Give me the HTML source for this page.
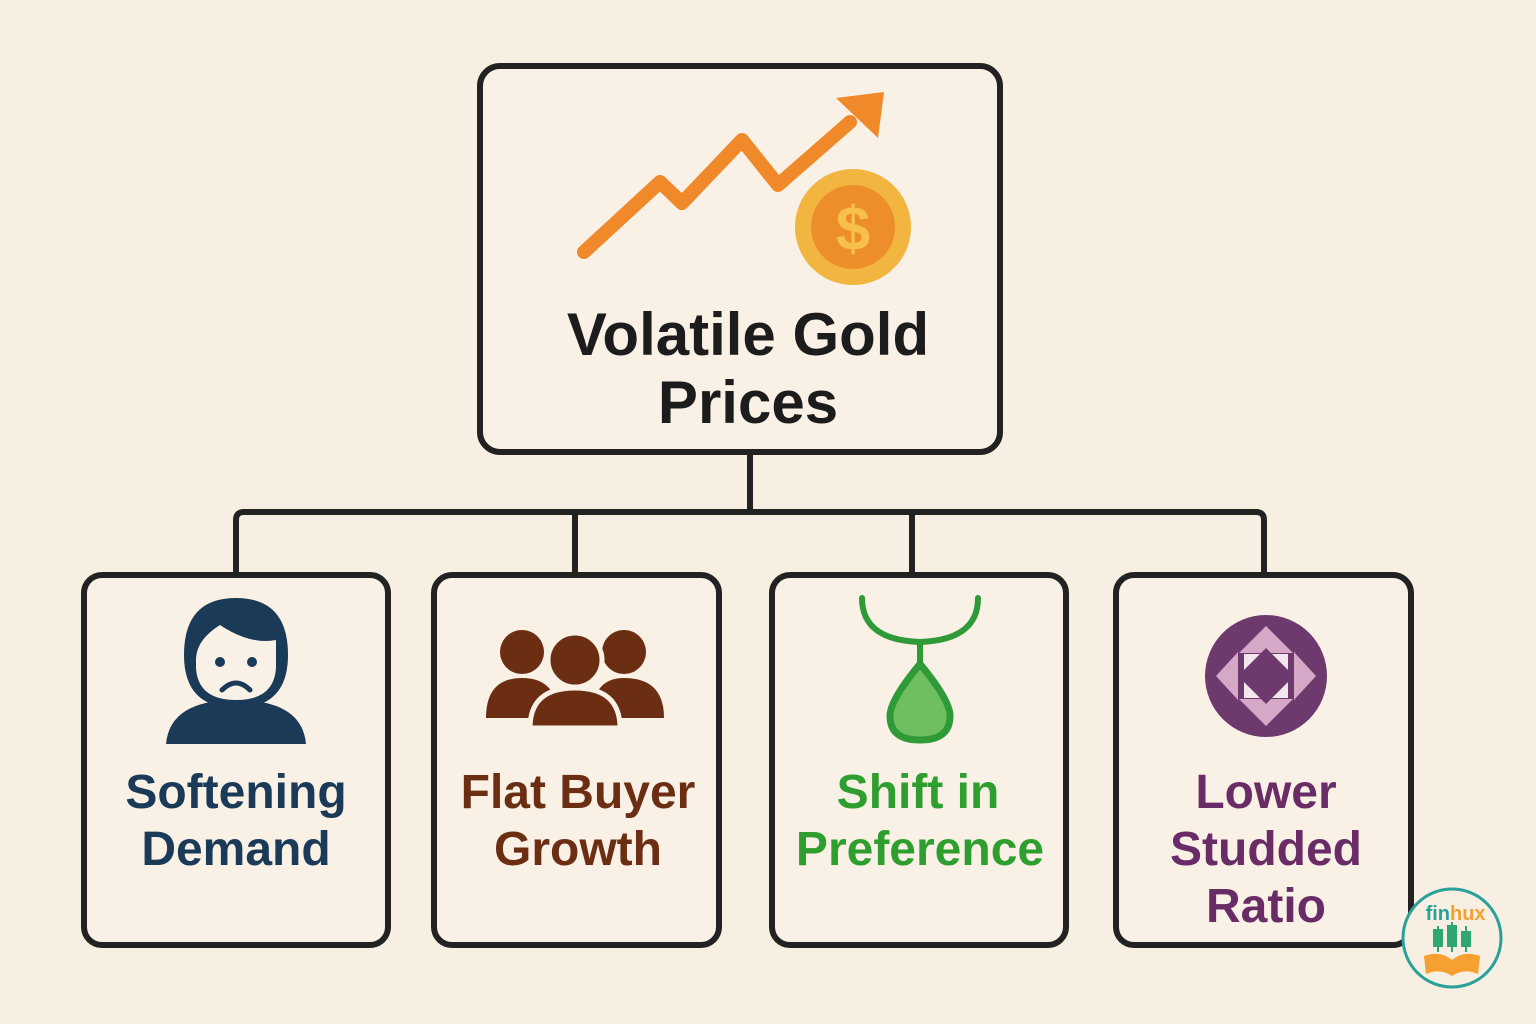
<!DOCTYPE html>
<html><head><meta charset="utf-8"><style>
html,body{margin:0;padding:0;background:#f8efe3;}
svg{display:block}
text{font-family:"Liberation Sans",sans-serif;font-weight:bold;text-anchor:middle}
</style></head><body>
<svg width="1536" height="1024" viewBox="0 0 1536 1024">
<rect width="1536" height="1024" fill="#f8efe3"/>
<g stroke="#222" stroke-width="6" fill="none" stroke-linejoin="round">
<path d="M750 452 V512 M236 575 V520 Q236 512 244 512 H1256 Q1264 512 1264 520 V575 M575 512 V575 M912 512 V575"/>
</g>
<g>
<rect x="480" y="66" width="520" height="386" rx="20" fill="#f9f1e6" stroke="#222" stroke-width="6"/>
<g>
<polyline points="584,252 660,182 682,203 742,140 778,185 850,122" fill="none" stroke="#f0892a" stroke-width="14" stroke-linecap="round" stroke-linejoin="round"/>
<polygon points="836,98 884,92 878,138" fill="#f0892a"/>
</g>
<g>
<circle cx="853" cy="227" r="58" fill="#f2b53f"/>
<circle cx="853" cy="227" r="42" fill="#ee8e2b"/>
<text x="853" y="250" font-size="62" fill="#f6c04a">$</text>
</g>
<text x="748" y="355" font-size="60" fill="#1c1c1c">Volatile Gold</text>
<text x="748" y="423" font-size="60" fill="#1c1c1c">Prices</text>
</g>

<g>
<rect x="84" y="575" width="304" height="370" rx="18" fill="#f9f1e6" stroke="#222" stroke-width="6"/>
<g fill="#1b3a57">
<path d="M166 744 Q170 700 236 700 Q302 700 306 744 Z"/>
<path d="M236 598 Q288 598 288 655 Q288 708 236 708 Q184 708 184 655 Q184 598 236 598Z"/>
<path d="M196 660 Q196 640 220 625 Q250 645 276 640 L276 668 Q274 700 236 700 Q198 700 196 668Z" fill="#f9f1e6"/>
<circle cx="220" cy="662" r="5"/><circle cx="252" cy="662" r="5"/>
<path d="M222 690 Q236 676 250 690" stroke="#1b3a57" stroke-width="5" fill="none" stroke-linecap="round"/>
</g>
<text x="236" y="808" font-size="48" fill="#1b3a57">Softening</text>
<text x="236" y="865" font-size="48" fill="#1b3a57">Demand</text>
</g>

<g>
<rect x="434" y="575" width="285" height="370" rx="18" fill="#f9f1e6" stroke="#222" stroke-width="6"/>
<g fill="#6b2e12">
<circle cx="522" cy="652" r="22"/><circle cx="624" cy="652" r="22"/>
<path d="M486 718 Q486 678 522 678 Q558 678 558 718Z"/>
<path d="M592 718 Q592 678 624 678 Q664 678 664 718Z"/>
<circle cx="575" cy="660" r="27" stroke="#f9f1e6" stroke-width="5"/>
<path d="M530 728 Q530 688 575 688 Q620 688 620 728Z" stroke="#f9f1e6" stroke-width="5"/>
</g>
<text x="578" y="808" font-size="48" fill="#6b2e12">Flat Buyer</text>
<text x="578" y="865" font-size="48" fill="#6b2e12">Growth</text>
</g>

<g>
<rect x="772" y="575" width="294" height="370" rx="18" fill="#f9f1e6" stroke="#222" stroke-width="6"/>
<g>
<path d="M862 598 Q862 640 920 642 Q978 640 978 598" fill="none" stroke="#2e9a38" stroke-width="6" stroke-linecap="round"/>
<line x1="920" y1="642" x2="920" y2="662" stroke="#2e9a38" stroke-width="6"/>
<path d="M920 664 Q890 700 890 716 Q890 740 920 740 Q950 740 950 716 Q950 700 920 664Z" fill="#6fbf60" stroke="#2e9a38" stroke-width="7"/>
</g>
<text x="918" y="808" font-size="48" fill="#2e9e2e">Shift in</text>
<text x="920" y="865" font-size="48" fill="#2e9e2e">Preference</text>
</g>

<g>
<rect x="1116" y="575" width="295" height="370" rx="18" fill="#f9f1e6" stroke="#222" stroke-width="6"/>
<g>
<circle cx="1266" cy="676" r="61" fill="#6e3a6e"/>
<polygon points="1266,626 1293,653 1239,653" fill="#d6a8c8"/>
<polygon points="1266,726 1293,699 1239,699" fill="#d6a8c8"/>
<polygon points="1216,676 1238,652 1238,700" fill="#d6a8c8"/>
<polygon points="1316,676 1294,652 1294,700" fill="#d6a8c8"/>
<rect x="1244" y="654" width="44" height="44" fill="#f5e6ee"/>
<polygon points="1266,648 1294,676 1266,704 1238,676" fill="#6e3a6e"/>
</g>
<text x="1266" y="808" font-size="48" fill="#6a2c66">Lower</text>
<text x="1266" y="865" font-size="48" fill="#6a2c66">Studded</text>
<text x="1266" y="922" font-size="48" fill="#6a2c66">Ratio</text>
</g>

<g>
<circle cx="1452" cy="938" r="49" fill="#f8efe3" stroke="#2aa198" stroke-width="3"/>
<text x="1450" y="920" font-size="20" fill="#2aa198" style="text-anchor:end">fin</text>
<text x="1450" y="920" font-size="20" fill="#f5a030" style="text-anchor:start">hux</text>
<g fill="#2ea870" stroke="#2ea870" stroke-width="2">
<line x1="1438" y1="926" x2="1438" y2="952"/><rect x="1434" y="930" width="8" height="16"/>
<line x1="1452" y1="922" x2="1452" y2="952"/><rect x="1448" y="926" width="8" height="20"/>
<line x1="1466" y1="926" x2="1466" y2="952"/><rect x="1462" y="932" width="8" height="14"/>
</g>
<path d="M1424 956 Q1440 950 1452 960 Q1464 950 1480 956 L1478 974 Q1464 968 1452 976 Q1440 968 1426 974Z" fill="#f5a030"/>
</g>
</svg>
</body></html>
